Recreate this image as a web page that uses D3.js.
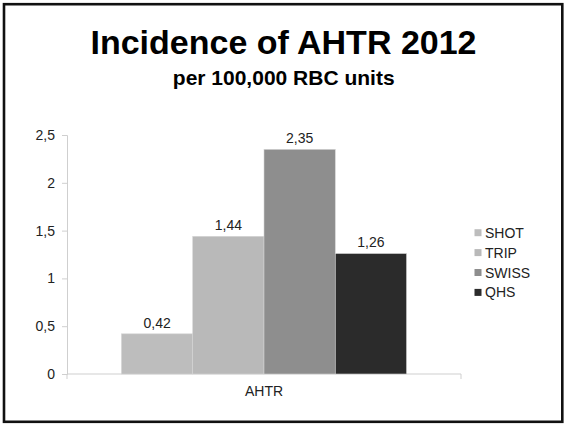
<!DOCTYPE html>
<html>
<head>
<meta charset="utf-8">
<script src="https://cdn.jsdelivr.net/npm/d3@7/dist/d3.min.js"></script>
<style>
  html, body { margin: 0; padding: 0; background: #fff; }
  svg { display: block; font-family: "Liberation Sans", Arial, sans-serif; }
</style>
</head>
<body>
<svg id="chart" width="564" height="424"></svg>
<script>
// Incidence of acute haemolytic transfusion reactions, per 100,000 RBC units
const categories = ["AHTR"];
const seriesNames = ["SHOT", "TRIP", "SWISS", "QHS"];
const seriesValues = [0.42, 1.44, 2.35, 1.26];
const seriesColors = ["#bdbdbd", "#b9b9b9", "#8e8e8e", "#2b2b2b"];
const yTicks = [0, 0.5, 1, 1.5, 2, 2.5];

const fmt = v => String(v).replace(".", ",");

const svg = d3.select("#chart");

// slide frame
svg.append("rect")
  .attr("x", 4).attr("y", 4.2)
  .attr("width", 558.3).attr("height", 417.6)
  .attr("fill", "#fff")
  .attr("stroke", "#111")
  .attr("stroke-width", 2.6);

// titles
svg.append("text")
  .attr("x", 283.5).attr("y", 54.3)
  .attr("text-anchor", "middle")
  .attr("font-size", 34).attr("font-weight", "bold")
  .attr("fill", "#000")
  .text("Incidence of AHTR 2012");

svg.append("text")
  .attr("x", 283.7).attr("y", 84.5)
  .attr("text-anchor", "middle")
  .attr("font-size", 21).attr("font-weight", "bold")
  .attr("fill", "#000")
  .text("per 100,000 RBC units");

// plot area
const plot = { left: 67, right: 461, top: 135, bottom: 374 };

const y = d3.scaleLinear().domain([0, 2.5]).range([plot.bottom, plot.top]);
const x0 = d3.scaleBand().domain(categories)
  .range([plot.left, plot.right])
  .paddingInner(0).paddingOuter(0.191);
const x1 = d3.scaleBand().domain(seriesNames)
  .range([0, x0.bandwidth()]).padding(0);

const axisColor = "#cfcfcf";

// y axis
const yAxis = svg.append("g")
  .attr("transform", `translate(${plot.left},0)`)
  .call(d3.axisLeft(y).tickValues(yTicks).tickFormat(fmt).tickSize(5).tickPadding(7));
yAxis.select(".domain").attr("stroke", axisColor);
yAxis.selectAll(".tick line").attr("stroke", axisColor);
yAxis.selectAll(".tick text")
  .attr("font-size", 14).attr("fill", "#222")
  .attr("font-family", "'Liberation Sans', Arial, sans-serif");

// x axis: boundary ticks at both ends of the category axis
const xg = svg.append("g").attr("transform", `translate(0,${plot.bottom})`);
xg.append("line")
  .attr("x1", plot.left).attr("x2", plot.right)
  .attr("stroke", axisColor);
xg.selectAll("line.edge")
  .data([plot.left, plot.right])
  .join("line")
  .attr("class", "edge")
  .attr("x1", d => d).attr("x2", d => d)
  .attr("y1", 0).attr("y2", 5)
  .attr("stroke", axisColor);
xg.selectAll("text.cat")
  .data(categories)
  .join("text")
  .attr("class", "cat")
  .attr("x", d => x0(d) + x0.bandwidth() / 2)
  .attr("y", 22)
  .attr("text-anchor", "middle")
  .attr("font-size", 14).attr("fill", "#222")
  .text(d => d);

// bars
const rows = seriesNames.map((s, i) => ({ series: s, value: seriesValues[i], color: seriesColors[i] }));
const bars = svg.append("g").attr("transform", `translate(${x0(categories[0])},0)`);

bars.selectAll("rect")
  .data(rows)
  .join("rect")
  .attr("x", d => x1(d.series))
  .attr("y", d => y(d.value))
  .attr("width", x1.bandwidth())
  .attr("height", d => y(0) - y(d.value))
  .attr("fill", d => d.color)
  .attr("stroke", "#d4d4d4")
  .attr("stroke-width", 0.6);

bars.selectAll("text")
  .data(rows)
  .join("text")
  .attr("x", d => x1(d.series) + x1.bandwidth() / 2)
  .attr("y", d => y(d.value) - 6.3)
  .attr("text-anchor", "middle")
  .attr("font-size", 14).attr("fill", "#222")
  .text(d => fmt(d.value));

// legend
const legend = svg.append("g").attr("transform", "translate(474.5,232.7)");
const item = legend.selectAll("g")
  .data(rows)
  .join("g")
  .attr("transform", (d, i) => `translate(0,${i * 19.9})`);
item.append("rect")
  .attr("x", 0).attr("y", -3.5)
  .attr("width", 7).attr("height", 7)
  .attr("fill", d => d.color);
item.append("text")
  .attr("x", 10.5).attr("y", 0)
  .attr("dy", "0.36em")
  .attr("font-size", 14).attr("fill", "#222")
  .text(d => d.series);
</script>
</body>
</html>
